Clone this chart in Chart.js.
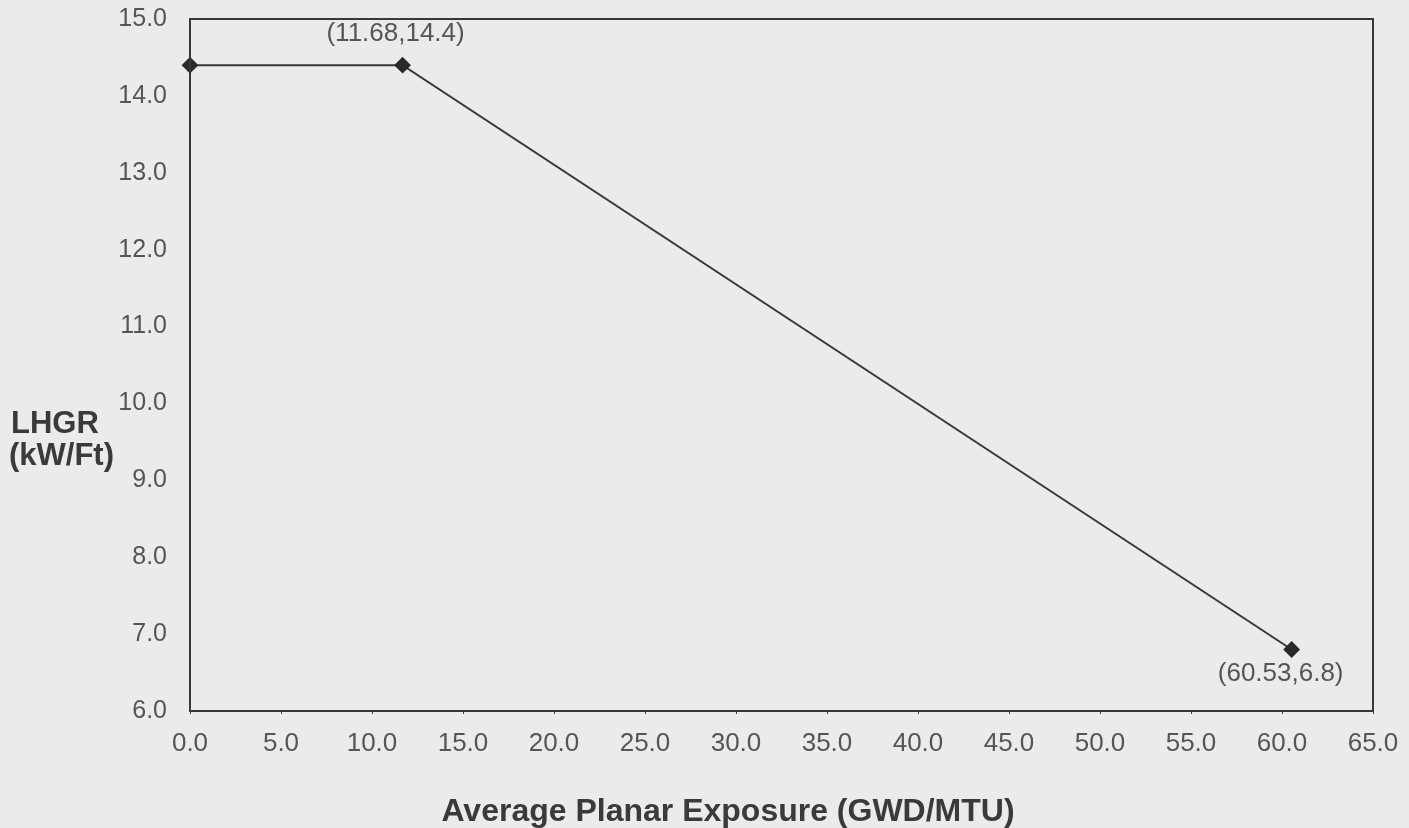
<!DOCTYPE html>
<html>
<head>
<meta charset="utf-8">
<script src="https://cdn.jsdelivr.net/npm/chart.js"></script>
<style>
  html, body { margin: 0; padding: 0; background: #ebebeb; }
  #wrap { width: 1409px; height: 828px; position: relative; }
</style>
</head>
<body>
<div id="wrap"><canvas id="lhgrChart"></canvas></div>
<script>
// LHGR limit vs. average planar exposure
const exposure = [0.0, 11.68, 60.53];
const lhgr = [14.4, 14.4, 6.8];
const labeledPoints = [1, 2]; // points that get a "(x,y)" tag
const xTicks = [0, 5, 10, 15, 20, 25, 30, 35, 40, 45, 50, 55, 60, 65];
const yTicks = [6, 7, 8, 9, 10, 11, 12, 13, 14, 15];

const INK = "#383838";
const TEXT = "#555555";
const FONT = "'Liberation Sans', Arial, sans-serif";

// frame around the plot, point tags and both axis titles
const decorations = {
    id: "decorations",
    afterDatasetsDraw(chart) {
        const ctx = chart.ctx;
        const a = chart.chartArea;
        const xs = chart.scales.x, ys = chart.scales.y;
        ctx.save();
        ctx.strokeStyle = INK;
        ctx.lineWidth = 2;
        ctx.strokeRect(a.left, a.top, a.right - a.left, a.bottom - a.top);

        ctx.fillStyle = TEXT;
        ctx.font = "26px " + FONT;
        ctx.textAlign = "center";
        ctx.textBaseline = "middle";
        labeledPoints.forEach(i => {
            const px = xs.getPixelForValue(exposure[i]);
            const py = ys.getPixelForValue(lhgr[i]);
            const txt = "(" + exposure[i] + "," + lhgr[i] + ")";
            // upper tag sits above the point, lower tag below it
            if (lhgr[i] > 10) ctx.fillText(txt, px - 7, py - 31);
            else ctx.fillText(txt, px - 11, py + 24);
        });

        ctx.fillStyle = "#3a3a3a";
        ctx.font = "bold 31px " + FONT;
        ctx.textAlign = "left";
        ctx.textBaseline = "alphabetic";
        ctx.fillText("LHGR", 11, 433);
        ctx.fillText("(kW/Ft)", 9, 465);

        ctx.font = "bold 32px " + FONT;
        ctx.textAlign = "center";
        ctx.fillText("Average Planar Exposure (GWD/MTU)", 728, 821);
        ctx.restore();
    }
};

new Chart(document.getElementById("lhgrChart").getContext("2d"), {
    type: "scatter",
    data: {
        datasets: [{
            data: exposure.map((x, i) => ({ x: x, y: lhgr[i] })),
            showLine: true,
            clip: false,
            borderColor: INK,
            borderWidth: 2,
            pointStyle: "rectRot",
            pointRadius: 7,
            pointBackgroundColor: "#2a2a2a",
            pointBorderColor: "#2a2a2a",
            tension: 0
        }]
    },
    options: {
        responsive: true,
        maintainAspectRatio: false,
        animation: false,
        layout: { padding: { left: 0, right: 36, top: 19, bottom: 0 } },
        plugins: {
            legend: { display: false },
            tooltip: { enabled: false }
        },
        scales: {
            x: {
                type: "linear",
                min: 0,
                max: 65,
                afterBuildTicks: s => { s.ticks = xTicks.map(v => ({ value: v })); },
                afterFit: s => { s.height = 117; s.paddingLeft = 0; s.paddingRight = 0; },
                grid: { drawOnChartArea: false, drawTicks: true, tickLength: 3, color: INK },
                border: { display: false },
                ticks: {
                    padding: 14,
                    color: TEXT,
                    font: { family: FONT, size: 26 },
                    maxRotation: 0,
                    autoSkip: false,
                    callback: v => v.toFixed(1)
                }
            },
            y: {
                type: "linear",
                min: 6,
                max: 15,
                afterBuildTicks: s => { s.ticks = yTicks.map(v => ({ value: v })); },
                afterFit: s => { s.width = 190; s.paddingTop = 0; s.paddingBottom = 0; },
                grid: { display: false, drawTicks: false },
                border: { display: false },
                ticks: {
                    padding: 23,
                    color: TEXT,
                    font: { family: FONT, size: 25 },
                    autoSkip: false,
                    callback: v => v.toFixed(1)
                }
            }
        }
    },
    plugins: [decorations]
});
</script>
</body>
</html>
